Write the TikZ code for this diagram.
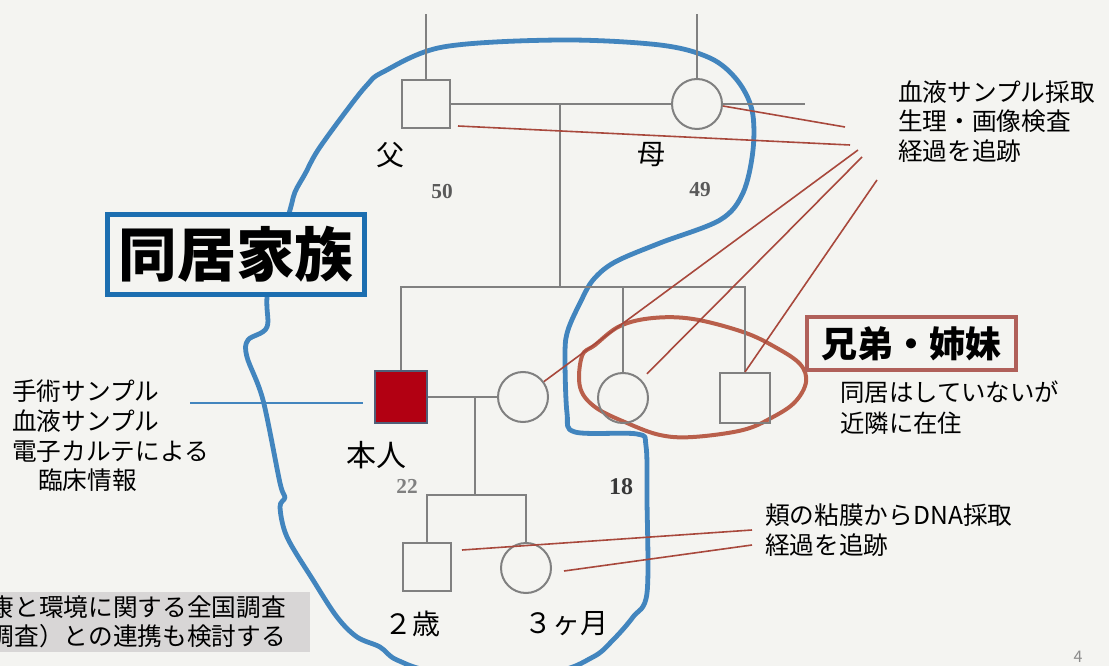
\documentclass[tikz,border=0pt]{standalone}
\usepackage{fontspec}
\setmainfont{Noto Sans CJK JP}
\newfontfamily\numfont{Liberation Serif}
\usetikzlibrary{calc}
\definecolor{bgc}{RGB}{244,244,241}
\definecolor{pedgray}{RGB}{128,128,128}
\definecolor{patred}{RGB}{178,0,18}
\definecolor{patedge}{RGB}{80,95,120}
\definecolor{redl}{RGB}{168,72,60}
\definecolor{outblue}{RGB}{66,133,190}
\definecolor{boxblue}{RGB}{28,110,176}
\definecolor{brownl}{RGB}{185,95,75}
\definecolor{boxbrown}{RGB}{176,96,90}
\definecolor{grayfill}{RGB}{216,214,214}
\begin{document}
\begin{tikzpicture}[x=0.75pt,y=-0.75pt,
  ped/.style={draw=pedgray,line width=1.5pt},
  male/.style={ped,rectangle,minimum size=36pt,inner sep=0pt},
  female/.style={ped,circle,minimum size=37.5pt,inner sep=0pt},
  redline/.style={draw=redl,line width=1.2pt},
  lbl/.style={inner sep=0pt,font=\fontsize{21}{24}\selectfont},
  num/.style={inner sep=0pt,text=black!65,font=\numfont\bfseries\fontsize{16}{18}\selectfont},
  txt/.style={inner sep=0pt,align=left,anchor=north west,font=\fontsize{18.5}{22.2}\selectfont},
]
\useasboundingbox (0,0) rectangle (1109,666);
\fill[bgc] (0,0) rectangle (1109,666);

% gray box at bottom left
\fill[grayfill] (0,592) rectangle (310,652);
\begin{scope}
\clip (0,592) rectangle (310,652);
\node[txt,align=right,anchor=north east] (survey) at (286,595) {康と環境に関する全国調査\\調査）との連携も検討する};
\end{scope}

% blue outline (cohabiting family)
\draw[outblue,line width=3.6pt,line join=round] plot[smooth cycle,tension=0.55] coordinates {
 (383,72) (443,47) (560,40) (660,45) (710,58) (737,80) (752,110) (753,150) (743,193) (720,220)
 (660,243) (615,262) (593,280) (580,303) (568,330) (565,353) (567,413) (575,432) (637,434)
 (646,446) (647,500) (647,593) (633,617) (613,640) (593,657) (550,672) (440,672) (397,660)
 (380,647) (357,637) (337,617) (313,580) (287,537) (280,507) (285,497) (280,483) (263,400)
 (247,357) (248,340) (267,327) (268,290) (290,210) (295,192) (305,174) (318,150)
 (347,110) (367,85)};

% brown ellipse (siblings)
\draw[brownl,line width=3pt,line join=round] plot[smooth cycle,tension=0.6] coordinates {
 (595,345) (620,326) (653,318) (693,319) (743,332) (775,347) (800,364) (806,382) (795,402)
 (773,417) (743,430) (693,437) (660,435) (627,423) (595,407) (580,387) (582,356)};

% pedigree symbols
\node[male] (father) at (426,104) {};
\node[female] (mother) at (697,104) {};
\node[male,fill=patred,draw=patedge,minimum size=39pt] (patient) at (401,397) {};
\node[female] (spouse) at (523,397) {};
\node[female] (sister) at (623,398) {};
\node[male,minimum size=37.5pt] (brother) at (745,398) {};
\node[male] (son) at (427,567) {};
\node[female] (daughter) at (526,568) {};

\coordinate (ftop) at (426,14);
\coordinate (mtop) at (697,14);
\coordinate (mext) at (805,104);
\coordinate (m1) at (560,104);
\coordinate (s1) at (560,287);
\coordinate (m2) at (475,397);
\coordinate (c1) at (475,495);

\draw[ped] (father.north) -- (ftop);
\draw[ped] (mother.north) -- (mtop);
\draw[ped] (father.east) -- (mother.west);
\draw[ped] (mother.east) -- (mext);
\draw[ped] (m1) -- (s1);
\draw[ped] (patient.north) |- (brother.north |- s1) -- (brother.north);
\draw[ped] (sister.north) -- (sister.north |- s1);
\draw[ped] (patient.east) -- (spouse.west);
\draw[ped] (m2) -- (c1);
\draw[ped] (son.north) |- (daughter.north |- c1) -- (daughter.north);

% labels on pedigree
\node[lbl] (lf) at (390,155) {父};
\node[lbl] (lm) at (651,155) {母};
\node[lbl,font=\fontsize{22.5}{24}\selectfont] (lp) at (376,455) {本人};
\node[lbl] (ls) at (412,624) {２歳};
\node[lbl] (ld) at (566,624) {３ヶ月};
\node[num] (n50) at (442,192) {50};
\node[num] (n49) at (700,190) {49};
\node[num,text=black!50] (n22) at (407,486) {22};
\node[num,text=black!78,font=\numfont\bfseries\fontsize{18}{20}\selectfont] (n18) at (621,487) {18};

% text blocks
\node[txt] (tr) at (898,80) {血液サンプル採取\\生理・画像検査\\経過を追跡};
\node[txt] (tl) at (12,380) {手術サンプル\\血液サンプル\\電子カルテによる\\\hspace*{1.05em}臨床情報};
\node[txt,font=\fontsize{18.3}{23}\selectfont] (tn) at (840,381) {同居はしていないが\\近隣に在住};
\node[txt] (tc) at (765,504) {頬の粘膜からDNA採取\\経過を追跡};

% red connectors
\coordinate (r1) at (845,127);
\coordinate (r2) at (850,145);
\coordinate (r3) at (858,150);
\coordinate (r4) at (862,157);
\coordinate (r5) at (877,180);
\coordinate (r6) at (752,530);
\coordinate (r7) at (752,545);
\draw[redline] (r1) -- ($(mother.east)+(0,2)$);
\draw[redline] (r2) -- ($(father.south east)+(7,-3)$);
\draw[redline] (r3) -- (spouse);
\draw[redline,shorten >=6pt] (r4) -- (sister);
\draw[redline] (r5) -- (brother.north);
\draw[redline] (r6) -- ($(son.north east)+(10,8)$);
\draw[redline] (r7) -- ($(daughter.east)+(12,3)$);

% blue connector from left text
\coordinate (bl) at (190,403);
\draw[outblue,line width=1.5pt,shorten >=8pt] (bl) -- (bl -| patient.west);

% title boxes
\node[draw=boxblue,line width=3.8pt,fill=bgc,minimum width=193pt,minimum height=60pt,inner sep=0pt,
  font=\bfseries\fontsize{44}{46}\selectfont] (family) at (236,254.5) {同居家族};
\node[draw=boxbrown,line width=3pt,fill=bgc,minimum width=157pt,minimum height=40pt,inner sep=0pt,
  font=\bfseries\fontsize{27}{30}\selectfont] (sibs) at (911.5,343.5) {兄弟・姉妹};

% page number
\node[inner sep=0pt,text=black!45,font=\fontsize{12}{14}\selectfont] (pg) at (1078,657) {4};
\end{tikzpicture}
\end{document}
